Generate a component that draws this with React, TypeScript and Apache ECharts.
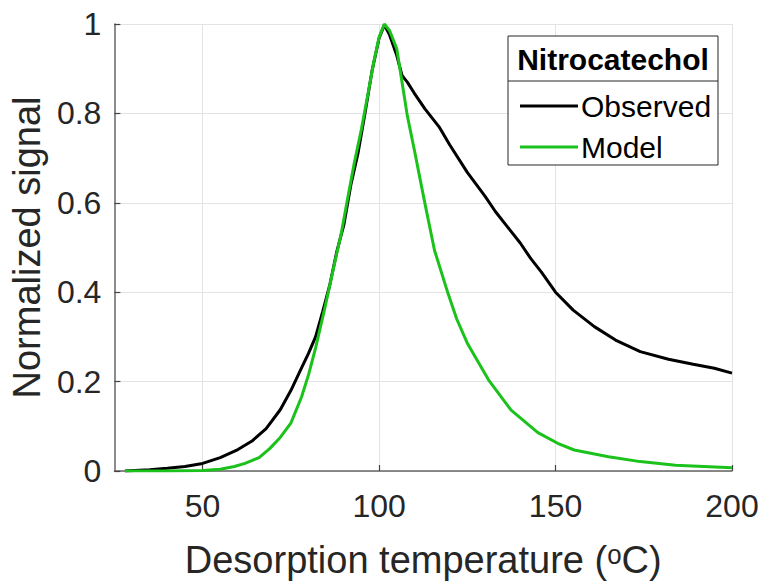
import React, { useEffect, useRef } from "react";
import * as echarts from "echarts";

const observedTemp = [28, 35, 40, 45, 50, 55, 60, 64, 68, 72, 75, 78, 80, 82, 84, 86, 88, 90, 92, 94, 96, 98, 100, 101.5, 103, 105, 106.5, 108, 110, 113, 117, 120, 125, 130, 133, 137, 140, 143, 146, 150, 155, 161, 167, 174, 182, 189, 195, 200];
const observedSignal = [0, 0.003, 0.006, 0.01, 0.017, 0.03, 0.048, 0.067, 0.095, 0.137, 0.18, 0.23, 0.263, 0.3, 0.356, 0.415, 0.49, 0.55, 0.64, 0.71, 0.8, 0.895, 0.968, 0.998, 0.975, 0.93, 0.885, 0.87, 0.845, 0.81, 0.77, 0.73, 0.668, 0.615, 0.58, 0.54, 0.51, 0.475, 0.445, 0.4, 0.36, 0.323, 0.293, 0.267, 0.25, 0.239, 0.23, 0.219];
const modelTemp = [28, 40, 50, 55, 59, 62, 66, 69, 72, 75, 78, 80, 82, 84.5, 87.4, 89.3, 91.1, 93, 95, 97, 98.5, 100, 101.5, 103, 105, 107, 108, 110, 112.8, 115.7, 119.5, 122, 125, 131, 137.4, 145, 150.6, 155.3, 165, 174, 184, 200];
const modelSignal = [0, 0, 0.001, 0.004, 0.01, 0.017, 0.03, 0.05, 0.075, 0.107, 0.165, 0.215, 0.275, 0.36, 0.465, 0.532, 0.61, 0.69, 0.765, 0.85, 0.915, 0.97, 1.0, 0.985, 0.945, 0.845, 0.795, 0.718, 0.606, 0.494, 0.398, 0.34, 0.286, 0.204, 0.136, 0.086, 0.062, 0.047, 0.032, 0.021, 0.013, 0.007];
const xTicks = [50, 100, 150, 200];
const seriesNames = ["Observed", "Model"];
const legendTitle = "Nitrocatechol";
const xTitle = "Desorption temperature (\u1D52C)";
const yTitle = "Normalized signal";

const FONT = "'Liberation Sans', Arial, Helvetica, 'DejaVu Sans', sans-serif";

export default function App() {
  const ref = useRef<HTMLDivElement>(null);
  useEffect(() => {
    const chart = echarts.init(ref.current!, null, { renderer: "svg" });
    const obs = observedTemp.map((t, i) => [t, observedSignal[i]]);
    const mod = modelTemp.map((t, i) => [t, modelSignal[i]]);
    chart.setOption({
      animation: false,
      backgroundColor: "#ffffff",
      textStyle: { fontFamily: FONT },
      grid: { left: 113, right: 30, top: 24, bottom: 114, containLabel: false },
      xAxis: {
        type: "value",
        min: 25,
        max: 200,
        axisLine: { show: true, onZero: false, lineStyle: { color: "#666", width: 1.5 } },
        axisTick: { show: true, inside: true, length: 6, customValues: xTicks, lineStyle: { color: "#444", width: 1.2 } },
        axisLabel: { customValues: xTicks, fontSize: 32, color: "#262626", margin: 19, fontFamily: FONT },
        splitLine: { show: true, lineStyle: { color: "#e3e3e3", width: 1 } },
        name: xTitle,
        nameLocation: "middle",
        nameGap: 70,
        nameTextStyle: { fontSize: 38, color: "#262626", fontFamily: FONT },
      },
      yAxis: {
        type: "value",
        min: 0,
        max: 1,
        interval: 0.2,
        axisLine: { show: true, onZero: false, lineStyle: { color: "#666", width: 1.5 } },
        axisTick: { show: true, inside: true, length: 6, lineStyle: { color: "#444", width: 1.2 } },
        axisLabel: { fontSize: 32, color: "#262626", margin: 13, fontFamily: FONT },
        splitLine: { show: true, lineStyle: { color: "#e3e3e3", width: 1 } },
        name: yTitle,
        nameLocation: "middle",
        nameGap: 64,
        nameTextStyle: { fontSize: 38, color: "#262626", fontFamily: FONT },
      },
      legend: {
        orient: "vertical",
        left: 515,
        top: 86,
        icon: "rect",
        itemWidth: 58,
        itemHeight: 3,
        itemGap: 11,
        data: seriesNames,
        textStyle: { fontSize: 30, color: "#000", fontFamily: FONT, padding: [0, 0, 0, -2] },
        z: 6,
      },
      graphic: [
        { type: "rect", z: 4, shape: { x: 508, y: 36, width: 210, height: 129 }, style: { fill: "#fff", stroke: "#262626", lineWidth: 1 } },
        { type: "line", z: 5, shape: { x1: 508, y1: 81, x2: 718, y2: 81 }, style: { stroke: "#262626", lineWidth: 1 } },
        { type: "text", z: 6, x: 613, y: 59, style: { text: legendTitle, fontSize: 30, fontWeight: "bold", fontFamily: FONT, fill: "#000", align: "center", verticalAlign: "middle" } },
      ],
      series: [
        { name: seriesNames[0], type: "line", data: obs, symbol: "none", lineStyle: { color: "#000", width: 3 }, itemStyle: { color: "#000" }, z: 3 },
        { name: seriesNames[1], type: "line", data: mod, symbol: "none", lineStyle: { color: "#1cc21c", width: 3 }, itemStyle: { color: "#1cc21c" }, z: 3 },
      ],
    });
    return () => chart.dispose();
  }, []);
  return <div ref={ref} style={{ position: "fixed", left: 0, top: 0, width: 762, height: 585 }} />;
}
